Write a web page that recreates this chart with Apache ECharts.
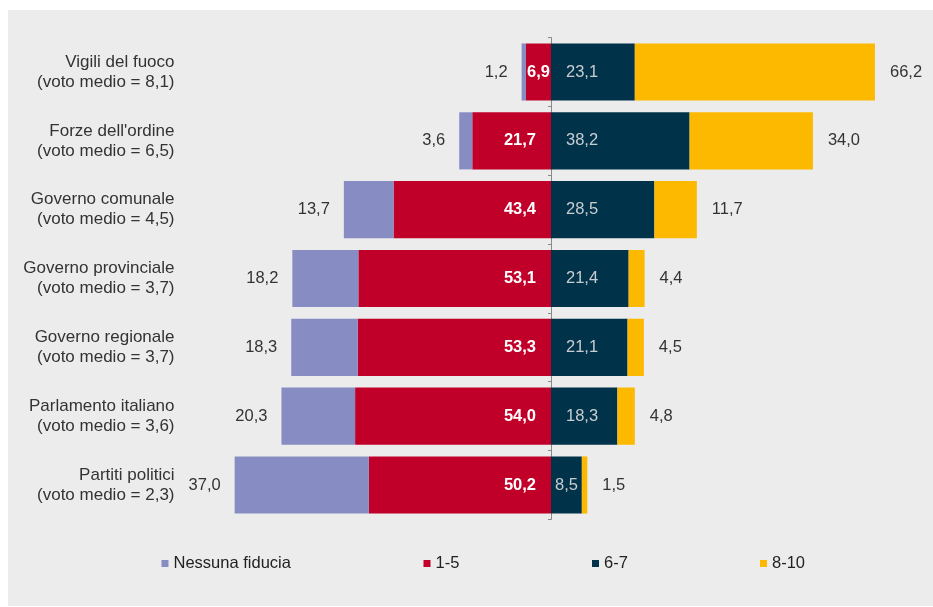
<!DOCTYPE html>
<html>
<head>
<meta charset="utf-8">
<script src="https://cdn.jsdelivr.net/npm/echarts@6/dist/echarts.min.js"></script>
<style>
  html, body { margin: 0; padding: 0; background: #ffffff; }
  #chart { width: 933px; height: 607px; }
</style>
</head>
<body>
<div id="chart"></div>
<script>
// Institutions, top to bottom, with their average score
const categories = [
  'Vigili del fuoco\n(voto medio = 8,1)',
  "Forze dell'ordine\n(voto medio = 6,5)",
  'Governo comunale\n(voto medio = 4,5)',
  'Governo provinciale\n(voto medio = 3,7)',
  'Governo regionale\n(voto medio = 3,7)',
  'Parlamento italiano\n(voto medio = 3,6)',
  'Partiti politici\n(voto medio = 2,3)'
];

// Share of respondents (%) per trust band
const nessunaFiducia = [1.2, 3.6, 13.7, 18.2, 18.3, 20.3, 37.0];
const voto1_5 = [6.9, 21.7, 43.4, 53.1, 53.3, 54.0, 50.2];
const voto6_7 = [23.1, 38.2, 28.5, 21.4, 21.1, 18.3, 8.5];
const voto8_10 = [66.2, 34.0, 11.7, 4.4, 4.5, 4.8, 1.5];

const FONT = 'Liberation Sans';
const colors = {
  'Nessuna fiducia': '#878dc2',
  '1-5': '#c1002a',
  '6-7': '#00324a',
  '8-10': '#fdb900'
};

const fmt = p => Math.abs(p.value).toFixed(1).replace('.', ',');

// Inside labels sit near the zero line; short bars get their label centred instead
const insideData = (arr, sign) => arr.map(v => ({
  value: sign * v,
  label: v < 12 ? { position: 'inside', distance: 0 } : undefined
}));

const chart = echarts.init(document.getElementById('chart'), null, { renderer: 'canvas' });

const baseBar = {
  type: 'bar',
  stack: 'tot',
  barWidth: '83%',
  yAxisIndex: 0
};

const legendAt = (name, left) => ({
  data: [name],
  left: left,
  top: 550,
  itemWidth: 7,
  itemHeight: 7,
  itemGap: 0,
  icon: 'rect',
  textStyle: { fontFamily: FONT, fontSize: 16.5, color: '#222' },
  selectedMode: false
});

chart.setOption({
  animation: false,
  backgroundColor: 'transparent',
  graphic: [{
    type: 'rect',
    shape: { x: 8, y: 10, width: 925, height: 596 },
    style: { fill: '#ebeceb' },
    z: -10
  }],
  textStyle: { fontFamily: FONT },
  grid: { left: 224.5, width: 653, top: 37.6, height: 481.8, containLabel: false },
  legend: [
    legendAt('Nessuna fiducia', 156.5),
    legendAt('1-5', 418.5),
    legendAt('6-7', 587),
    legendAt('8-10', 755)
  ],
  xAxis: {
    type: 'value',
    min: -90,
    max: 90,
    show: false
  },
  yAxis: [
    {
      type: 'category',
      data: categories,
      inverse: true,
      axisLine: { onZero: true, lineStyle: { color: '#8a8a8a', width: 1 } },
      axisTick: { show: true, length: 3, lineStyle: { color: '#8a8a8a' } },
      axisLabel: { show: false },
      splitLine: { show: false }
    },
    {
      type: 'category',
      data: categories,
      inverse: true,
      position: 'left',
      axisLine: { show: false },
      axisTick: { show: false },
      axisLabel: {
        margin: 50,
        align: 'right',
        fontFamily: FONT,
        fontSize: 17,
        lineHeight: 20,
        color: '#333'
      }
    }
  ],
  series: [
    Object.assign({}, baseBar, {
      name: '1-5',
      data: insideData(voto1_5, -1),
      itemStyle: { color: colors['1-5'] },
      label: {
        show: true, position: 'insideRight', distance: 15, formatter: fmt,
        color: '#ffffff', fontWeight: 'bold', fontSize: 16.5, fontFamily: FONT
      }
    }),
    Object.assign({}, baseBar, {
      name: 'Nessuna fiducia',
      data: nessunaFiducia.map(v => -v),
      itemStyle: { color: colors['Nessuna fiducia'] },
      label: {
        show: true, position: 'left', distance: 14, formatter: fmt,
        color: '#333', fontSize: 16.5, fontFamily: FONT
      }
    }),
    Object.assign({}, baseBar, {
      name: '6-7',
      data: insideData(voto6_7, 1),
      itemStyle: { color: colors['6-7'] },
      label: {
        show: true, position: 'insideLeft', distance: 15, formatter: fmt,
        color: '#c9cdd1', fontSize: 16.5, fontFamily: FONT
      }
    }),
    Object.assign({}, baseBar, {
      name: '8-10',
      data: voto8_10,
      itemStyle: { color: colors['8-10'] },
      label: {
        show: true, position: 'right', distance: 15, formatter: fmt,
        color: '#333', fontSize: 16.5, fontFamily: FONT
      }
    })
  ]
});
</script>
</body>
</html>
